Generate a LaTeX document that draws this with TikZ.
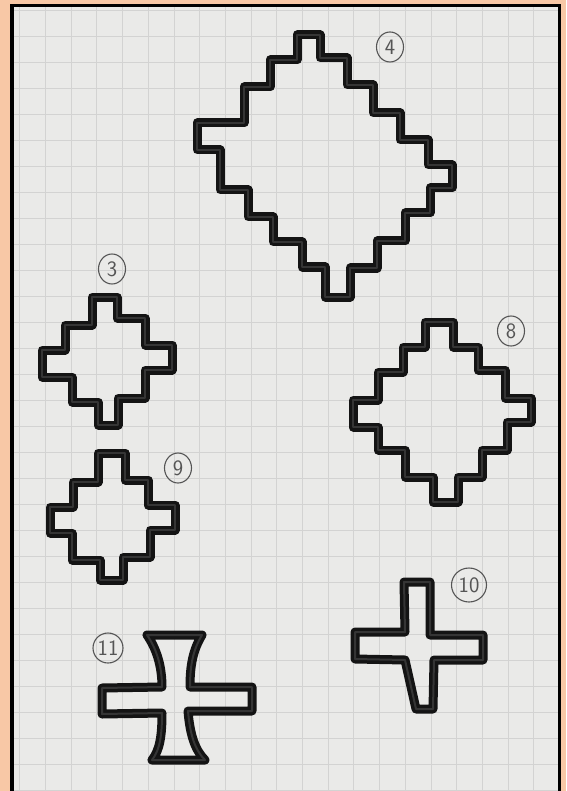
\documentclass[tikz,border=0pt]{standalone}
\usepackage{xcolor}
\usepackage{tikz}
\usetikzlibrary{shapes.geometric}
\definecolor{cmarco}{HTML}{F8C8A6}
\definecolor{cpapel}{HTML}{EAEAE8}
\definecolor{clinea}{HTML}{D3D3D2}
\definecolor{ctinta}{HTML}{141414}
\definecolor{ctintac}{HTML}{353535}
\definecolor{clapiz}{HTML}{555555}
\tikzset{
  cuadro/.style={draw=clinea, line width=0.9pt},
  trazo/.style={draw=ctinta, line width=3.5pt, double=ctintac, double distance=2pt,
    line join=round, line cap=round},
  num/.style={ellipse, draw=clapiz, line width=1.1pt, minimum width=27pt,
    minimum height=30pt, inner sep=0pt, text=clapiz, font=\sffamily\fontsize{22}{22}\selectfont},
}

\begin{document}
\begin{tikzpicture}[x=1pt,y=-1pt]
  \useasboundingbox (0,0) rectangle (566,791);
  \fill[cmarco] (0,0) rectangle (566,791);
  \fill[cpapel] (14,7) rectangle (558,791);
  % hoja cuadriculada
  \begin{scope}
    \clip (14,7) rectangle (558,791);
    \foreach \i in {-1,...,20}
      \draw[cuadro] ({45.5+25.7*\i},7) -- ({45.5+25.7*\i},791);
    \foreach \j in {-1,...,29}
      \draw[cuadro] (14,{36.5+26*\j}) -- (558,{36.5+26*\j});
  \end{scope}
  \draw[line width=3.5pt] (12,791) -- (12,5.5) -- (559.5,5.5) -- (559.5,791);

  % figura 4
  \draw[trazo] (297,35) -- (320,35) -- (320,58) -- (347,58) -- (347,85) -- (373,85)
    -- (373,113) -- (400,113) -- (400,140) -- (428,140) -- (428,165) -- (452,165)
    -- (452,188) -- (430,188) -- (430,213) -- (405,213) -- (405,241) -- (377,241)
    -- (377,268) -- (350,268) -- (350,297) -- (325,297) -- (325,267) -- (302,267)
    -- (302,242) -- (273,242) -- (273,217) -- (248,217) -- (248,190) -- (220,190)
    -- (220,150) -- (197,150) -- (197,123) -- (244,123) -- (244,87) -- (270,87)
    -- (270,60) -- (297,60) -- cycle;
  % figura 3
  \draw[trazo] (92,297) -- (117,297) -- (117,318) -- (145,318) -- (145,345) -- (172,345)
    -- (172,370) -- (145,370) -- (145,398) -- (118,398) -- (118,425) -- (98,425)
    -- (98,402) -- (72,402) -- (72,377) -- (42,377) -- (42,350) -- (65,350)
    -- (65,325) -- (92,325) -- cycle;
  % figura 9
  \draw[trazo] (98,453) -- (125,453) -- (125,480) -- (148,480) -- (148,505) -- (175,505)
    -- (175,530) -- (150,530) -- (150,557) -- (123,557) -- (123,580) -- (100,580)
    -- (100,560) -- (72,560) -- (72,533) -- (50,533) -- (50,507) -- (73,507)
    -- (73,482) -- (98,482) -- cycle;
  % figura 8
  \draw[trazo] (425,322) -- (453,322) -- (453,347) -- (478,347) -- (478,370) -- (505,370)
    -- (505,398) -- (531,398) -- (531,422) -- (507,422) -- (507,450) -- (482,450)
    -- (482,477) -- (458,477) -- (458,502) -- (433,502) -- (433,477) -- (405,477)
    -- (405,450) -- (378,450) -- (378,427) -- (353,427) -- (353,400) -- (378,400)
    -- (378,372) -- (403,372) -- (403,347) -- (425,347) -- cycle;
  % figura 10
  \draw[trazo] (404,582) -- (430,582) -- (430,635) -- (483,635) -- (483,660) -- (434,660)
    -- (433,709) -- (416,709) -- (405,660) -- (355,659) -- (355,632) -- (405,632) -- cycle;
  % figura 11
  \draw[trazo] (147,635) -- (202,635) .. controls (193,650) and (190,665) .. (190,687)
    -- (252,687) -- (252,711) -- (188,711) .. controls (190,735) and (195,750) .. (205,760)
    -- (152,760) .. controls (160,750) and (162,735) .. (162,713) -- (102,714)
    -- (102,688) -- (162,687) .. controls (162,665) and (156,648) .. (147,635) -- cycle;

  % numeros
  \node[num] (n4) at (390,47) {4};
  \node[num] (n3) at (112,269) {3};
  \node[num] (n9) at (178,468) {9};
  \node[num] (n8) at (511,331) {8};
  \node[num, minimum width=35pt, minimum height=34pt] (n10) at (469,585) {10};
  \node[num, minimum width=30pt] (n11) at (108,648) {11};
\end{tikzpicture}
\end{document}
